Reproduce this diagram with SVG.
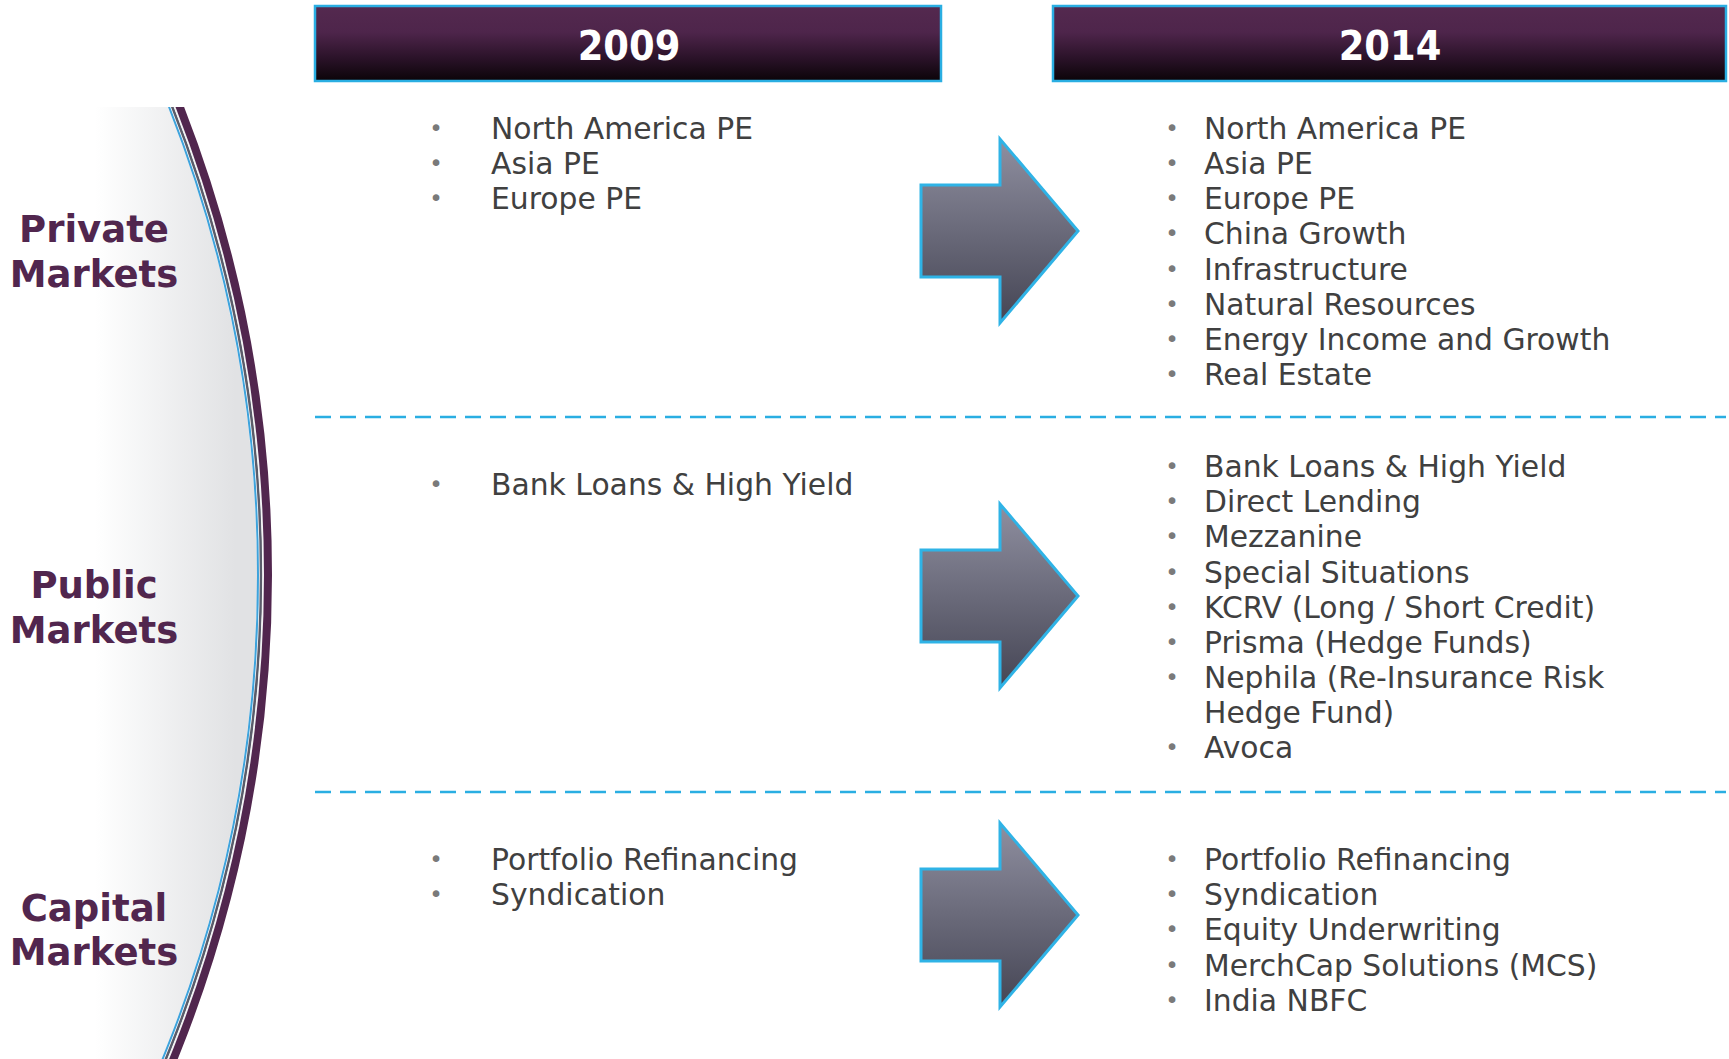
<svg xmlns="http://www.w3.org/2000/svg" width="1729" height="1059" viewBox="0 0 1729 1059">
  <defs>
    <linearGradient id="hdrGrad" x1="0" y1="0" x2="0" y2="1">
      <stop offset="0" stop-color="#54294f"/>
      <stop offset="0.35" stop-color="#4e254b"/>
      <stop offset="0.7" stop-color="#2a1228"/>
      <stop offset="1" stop-color="#0b0408"/>
    </linearGradient>
    <linearGradient id="arrowGrad" x1="0" y1="0" x2="0" y2="1">
      <stop offset="0" stop-color="#8f8fa0"/>
      <stop offset="1" stop-color="#454554"/>
    </linearGradient>
    <linearGradient id="bandGrad" gradientUnits="userSpaceOnUse" x1="95" y1="0" x2="235" y2="0">
      <stop offset="0" stop-color="#ffffff"/>
      <stop offset="1" stop-color="#e1e2e4"/>
    </linearGradient>
    <clipPath id="bandClip">
      <rect x="0" y="107" width="400" height="952"/>
    </clipPath>
    <path id="arrowShape" d="M921,185 L1000,185 L1000,139 L1078,231 L1000,323 L1000,277 L921,277 Z"/>
  </defs>
  <style>
    .hdr { fill: url(#hdrGrad); stroke: #2aaee2; stroke-width: 2.5; }
    .hdrText { font-family: "DejaVu Sans Condensed", "DejaVu Sans", sans-serif; font-stretch: condensed; font-weight: bold; font-size: 41px; fill: #ffffff; text-anchor: middle; }
    .label { font-family: "DejaVu Sans", "Liberation Sans", sans-serif; font-weight: bold; font-size: 37px; fill: #51264e; text-anchor: middle; }
    .item { font-family: "DejaVu Sans", "Liberation Sans", sans-serif; font-size: 29.8px; fill: #404040; }
    .dot { font-family: "DejaVu Sans", "Liberation Sans", sans-serif; font-size: 23px; fill: #7a7a7a; text-anchor: middle; }
    .divider { stroke: #2aaee2; stroke-width: 2.5; stroke-dasharray: 16 9; fill: none; }
    .arrow { fill: url(#arrowGrad); stroke: #2fb3e6; stroke-width: 3; }
  </style>

  <rect width="1729" height="1059" fill="#ffffff"/>

  <!-- curved side band -->
  <g id="side-band" clip-path="url(#bandClip)">
    <circle cx="-1018" cy="575" r="1275" fill="url(#bandGrad)"/>
    <circle cx="-1018" cy="575" r="1276" fill="none" stroke="#3ea3dc" stroke-width="2"/>
    <circle cx="-1018" cy="575" r="1279" fill="none" stroke="#5a5c6a" stroke-width="2.5"/>
    <circle cx="-1018" cy="575" r="1281.5" fill="none" stroke="#f2f2f4" stroke-width="1.8"/>
    <circle cx="-1018" cy="575" r="1286" fill="none" stroke="#51264e" stroke-width="8"/>
  </g>

  <!-- column headers -->
  <g id="header-2009">
    <rect class="hdr" x="315" y="6" width="626" height="75"/>
    <text class="hdrText" x="629" y="60">2009</text>
  </g>
  <g id="header-2014">
    <rect class="hdr" x="1053" y="6" width="673" height="75"/>
    <text class="hdrText" x="1390" y="60">2014</text>
  </g>

  <!-- row labels -->
  <g id="label-private">
    <text class="label" x="94" y="242">Private</text>
    <text class="label" x="94" y="287">Markets</text>
  </g>
  <g id="label-public">
    <text class="label" x="94" y="598">Public</text>
    <text class="label" x="94" y="643">Markets</text>
  </g>
  <g id="label-capital">
    <text class="label" x="94" y="921">Capital</text>
    <text class="label" x="94" y="965">Markets</text>
  </g>

  <!-- row dividers -->
  <g id="dividers">
    <line class="divider" x1="315" y1="417" x2="1726" y2="417"/>
    <line class="divider" x1="315" y1="792" x2="1726" y2="792"/>
  </g>

  <!-- 2009 lists -->
  <g id="private-2009">
    <text class="dot" x="436" y="136">•</text><text class="item" x="491" y="139">North America PE</text>
    <text class="dot" x="436" y="171">•</text><text class="item" x="491" y="174">Asia PE</text>
    <text class="dot" x="436" y="206">•</text><text class="item" x="491" y="209">Europe PE</text>
  </g>
  <g id="public-2009">
    <text class="dot" x="436" y="492">•</text><text class="item" x="491" y="495">Bank Loans &amp; High Yield</text>
  </g>
  <g id="capital-2009">
    <text class="dot" x="436" y="867">•</text><text class="item" x="491" y="870">Portfolio Refinancing</text>
    <text class="dot" x="436" y="902">•</text><text class="item" x="491" y="905">Syndication</text>
  </g>

  <!-- 2014 lists -->
  <g id="private-2014">
    <text class="dot" x="1172" y="136">•</text><text class="item" x="1204" y="139">North America PE</text>
    <text class="dot" x="1172" y="171">•</text><text class="item" x="1204" y="174">Asia PE</text>
    <text class="dot" x="1172" y="206">•</text><text class="item" x="1204" y="209">Europe PE</text>
    <text class="dot" x="1172" y="241">•</text><text class="item" x="1204" y="244">China Growth</text>
    <text class="dot" x="1172" y="277">•</text><text class="item" x="1204" y="280">Infrastructure</text>
    <text class="dot" x="1172" y="312">•</text><text class="item" x="1204" y="315">Natural Resources</text>
    <text class="dot" x="1172" y="347">•</text><text class="item" x="1204" y="350">Energy Income and Growth</text>
    <text class="dot" x="1172" y="382">•</text><text class="item" x="1204" y="385">Real Estate</text>
  </g>
  <g id="public-2014">
    <text class="dot" x="1172" y="474">•</text><text class="item" x="1204" y="477">Bank Loans &amp; High Yield</text>
    <text class="dot" x="1172" y="509">•</text><text class="item" x="1204" y="512">Direct Lending</text>
    <text class="dot" x="1172" y="544">•</text><text class="item" x="1204" y="547">Mezzanine</text>
    <text class="dot" x="1172" y="580">•</text><text class="item" x="1204" y="583">Special Situations</text>
    <text class="dot" x="1172" y="615">•</text><text class="item" x="1204" y="618">KCRV (Long / Short Credit)</text>
    <text class="dot" x="1172" y="650">•</text><text class="item" x="1204" y="653">Prisma (Hedge Funds)</text>
    <text class="dot" x="1172" y="685">•</text><text class="item" x="1204" y="688">Nephila (Re-Insurance Risk</text>
    <text class="item" x="1204" y="723">Hedge Fund)</text>
    <text class="dot" x="1172" y="755">•</text><text class="item" x="1204" y="758">Avoca</text>
  </g>
  <g id="capital-2014">
    <text class="dot" x="1172" y="867">•</text><text class="item" x="1204" y="870">Portfolio Refinancing</text>
    <text class="dot" x="1172" y="902">•</text><text class="item" x="1204" y="905">Syndication</text>
    <text class="dot" x="1172" y="937">•</text><text class="item" x="1204" y="940">Equity Underwriting</text>
    <text class="dot" x="1172" y="973">•</text><text class="item" x="1204" y="976">MerchCap Solutions (MCS)</text>
    <text class="dot" x="1172" y="1008">•</text><text class="item" x="1204" y="1011">India NBFC</text>
  </g>

  <!-- block arrows from 2009 to 2014 -->
  <g id="connectors">
    <use href="#arrowShape" class="arrow"/>
    <use href="#arrowShape" class="arrow" transform="translate(0,365)"/>
    <use href="#arrowShape" class="arrow" transform="translate(0,684)"/>
  </g>
</svg>
